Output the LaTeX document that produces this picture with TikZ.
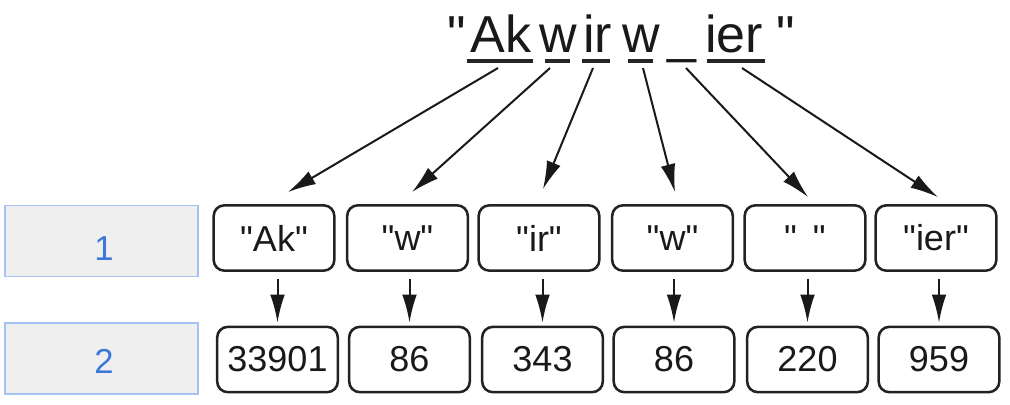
\documentclass[tikz,border=0pt]{standalone}
\usepackage{fontspec}
\newfontfamily\arial{Liberation Sans}
\usetikzlibrary{arrows.meta,calc}
\definecolor{boxline}{HTML}{222222}
\definecolor{greyfill}{HTML}{EFEFEF}
\definecolor{greyline}{HTML}{A4C2F4}
\definecolor{numblue}{HTML}{3C78D8}
\begin{document}
\begin{tikzpicture}[x=0.75pt,y=-0.75pt,
  piece/.style={inner sep=0pt, anchor=base, font=\arial\fontsize{39}{39}\selectfont, text=black!90},
  tok/.style={draw=boxline, line width=1.9pt, rounded corners=8pt, minimum width=90.5pt, minimum height=49pt, inner sep=0pt, font=\arial\fontsize{27}{27}\selectfont, text=black!90},
  gbox/.style={draw=greyline, fill=greyfill, line width=1.2pt, minimum width=144.75pt, minimum height=53.5pt, inner sep=0pt},
  num/.style={inner sep=0pt, font=\arial\fontsize{26}{26}\selectfont, text=numblue},
  uline/.style={line width=2.3pt, draw=black!85},
  arr/.style={-{Latex[length=21pt,width=11pt]}, line width=1.5pt, draw=black!90},
]
\useasboundingbox (0,0) rectangle (1010,404);

% title pieces
\node[piece] (q1) at (457,52) {"};
\node[piece] (p1) at (501,52) {Ak};
\node[piece] (p2) at (558.5,52) {w};
\node[piece] (p3) at (597.5,52) {ir};
\node[piece] (p4) at (641,52) {w};
\node[piece] (p5) at (682,52) {\_};
\node[piece] (p6) at (734,52) {ier};
\node[piece] (q2) at (786,52) {"};

% underlines
\draw[uline] (467,61) -- (533,61);
\draw[uline] (545,61) -- (570,61);
\draw[uline] (582,61) -- (610,61);
\draw[uline] (628,61) -- (653,61);
\draw[uline] (707,61) -- (765,61);

% arrow start points
\coordinate (s1) at (498,68);
\coordinate (s2) at (550,68);
\coordinate (s3) at (593,68);
\coordinate (s4) at (643,68);
\coordinate (s5) at (686,68);
\coordinate (s6) at (742,68);

% grey label boxes
\node[gbox] (g1) at (101.5,241) {};
\node[gbox] (g2) at (101.5,358.5) {};
\node[num] (n1) at (104,248.5) {1};
\node[num] (n2) at (104,361.5) {2};

% token boxes
\node[tok] (t1) at (274,238) {"Ak"};
\node[tok] (t2) at (407.5,238) {"w"};
\node[tok] (t3) at (539,238) {"ir"};
\node[tok] (t4) at (672.5,238) {"w"};
\node[tok] (t5) at (805,238) {"\ \,"};
\node[tok] (t6) at (936,238) {"ier"};

% id boxes
\node[tok] (v1) at (277.5,359.5) {33901};
\node[tok] (v2) at (409.5,359.5) {86};
\node[tok] (v3) at (542.5,359.5) {343};
\node[tok] (v4) at (674,359.5) {86};
\node[tok] (v5) at (807.5,359.5) {220};
\node[tok] (v6) at (939,359.5) {959};

% diagonal arrows
\draw[arr] (s1) -- ([shift={(14,-12)}]t1.north);
\draw[arr] (s2) -- ([shift={(4.5,-12)}]t2.north);
\draw[arr] (s3) -- ([shift={(4,-15)}]t3.north);
\draw[arr] (s4) -- ([shift={(2.5,-12)}]t4.north);
\draw[arr] (s5) -- ([shift={(3,-7)}]t5.north);
\draw[arr] (s6) -- ([shift={(2,-7)}]t6.north);

% vertical arrows
\foreach \i in {1,...,6}{
  \draw[arr, shorten <=5.25pt, shorten >=2.25pt] (t\i.south -| v\i.north) -- (v\i.north);
}
\end{tikzpicture}
\end{document}
